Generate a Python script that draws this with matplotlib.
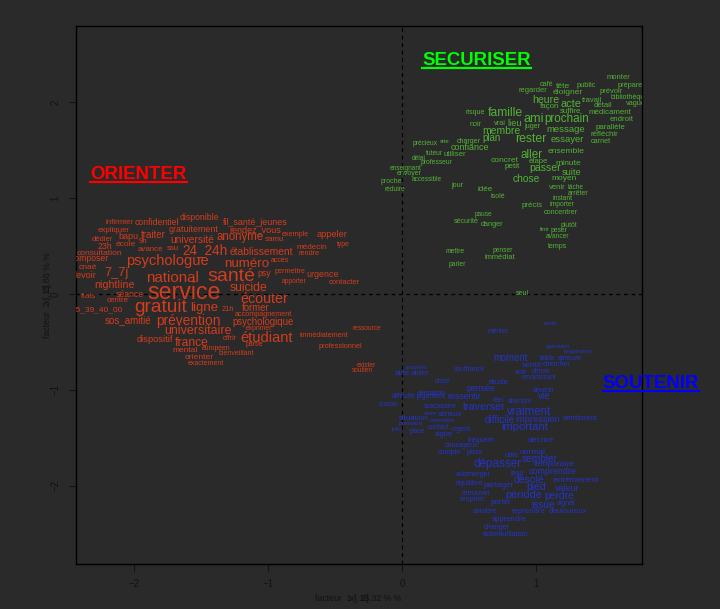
import matplotlib
matplotlib.use("Agg")
import matplotlib.pyplot as plt
from matplotlib.lines import Line2D

# ---- Classe ORIENTER ----
orienter_mots = ["disponible", "infirmier", "confidentiel", "fil_santé_jeunes", "expliquer",
    "gratuitement", "rendez_vous", "dédier", "bapu", "traiter", "université", "anonyme",
    "samu", "exemple", "appeler", "23h", "9h", "école", "avance", "ssu", "24_24h",
    "établissement", "médecin", "rendre", "type", "consultation", "composer", "psychologue",
    "numéro", "accès", "cnaé", "7_7j", "national", "santé", "psy", "permettre", "urgence",
    "devoir", "apporter", "contacter", "nightline", "service", "suicide", "séance", "frais",
    "centre", "écouter", "45_39_40_00", "gratuit", "ligne", "21h", "former",
    "accompagnement", "sos_amitié", "prévention", "psychologique", "exprimer",
    "universitaire", "dispositif", "offrir", "étudiant", "france", "partie", "mental",
    "européen", "bienveillant", "orienter", "exactement", "immédiatement", "ressource",
    "professionnel", "exister", "soutien"]
orienter_x = [-1.509, -2.104, -1.830, -1.091, -2.148, -1.551, -1.095, -2.232, -2.039, -1.854,
    -1.563, -1.206, -0.949, -0.794, -0.525, -2.217, -1.930, -2.058, -1.878, -1.705, -1.469,
    -1.045, -0.676, -0.694, -0.441, -2.255, -2.326, -1.745, -1.155, -0.910, -2.337, -2.130,
    -1.712, -1.269, -1.028, -0.836, -0.592, -2.371, -0.804, -0.433, -2.140, -1.625, -1.143,
    -2.027, -2.338, -2.121, -1.026, -2.268, -1.800, -1.473, -1.295, -1.091, -1.030, -2.044,
    -1.591, -1.035, -1.064, -1.522, -1.839, -1.281, -1.008, -1.569, -1.098, -1.618, -1.384,
    -1.235, -1.510, -1.461, -0.583, -0.262, -0.462, -0.267, -0.294]
orienter_y = [0.799, 0.750, 0.746, 0.746, 0.665, 0.669, 0.669, 0.567, 0.604, 0.620, 0.563,
    0.596, 0.563, 0.620, 0.620, 0.499, 0.547, 0.515, 0.462, 0.470, 0.454, 0.438, 0.486,
    0.422, 0.519, 0.426, 0.365, 0.340, 0.312, 0.345, 0.272, 0.219, 0.166, 0.182, 0.215,
    0.239, 0.199, 0.191, 0.126, 0.122, 0.089, 0.012, 0.057, -0.004, -0.024, -0.073, -0.053,
    -0.166, -0.142, -0.150, -0.158, -0.146, -0.211, -0.276, -0.284, -0.288, -0.365, -0.389,
    -0.478, -0.462, -0.458, -0.507, -0.527, -0.588, -0.567, -0.624, -0.665, -0.726, -0.430,
    -0.365, -0.551, -0.746, -0.803]
orienter_poids = [6.2, 5.8, 6.3, 6.4, 5.7, 6.4, 6.5, 5.4, 6.5, 7.0, 7.4, 8.3, 5.8, 5.2, 6.6,
    6.3, 5.6, 6.0, 5.7, 5.7, 9.8, 7.4, 5.9, 5.3, 4.9, 6.1, 6.2, 10.5, 9.6, 5.1, 6.1, 9.3,
    10.9, 14.0, 6.2, 5.2, 6.4, 6.5, 4.8, 5.4, 7.7, 16.7, 8.7, 6.2, 5.8, 5.7, 10.3, 6.0, 13.8,
    9.5, 5.4, 6.9, 5.2, 7.0, 9.9, 6.9, 4.9, 8.9, 6.7, 5.1, 10.5, 8.7, 5.0, 6.0, 4.9, 5.0,
    6.1, 5.0, 5.1, 4.7, 5.3, 4.7, 4.7]

# ---- Classe SECURISER ----
securiser_mots = ["monter", "café", "tête", "public", "prépare", "regarder", "éloigner",
    "prévoir", "bibliothèque", "heure", "acte", "travail", "façon", "détail", "vague",
    "suffire", "médicament", "risque", "famille", "ami", "prochain", "endroit", "noir",
    "vrai", "lieu", "juger", "membre", "message", "parallèle", "réfléchir", "plan", "rester",
    "essayer", "carnet", "précieux", "site", "charger", "confiance", "tuteur", "utiliser",
    "aller", "ensemble", "délai", "professeur", "concret", "petit", "étape", "minute",
    "enseignant", "envoyer", "passer", "suite", "chose", "moyen", "proche", "accessible",
    "réduire", "jour", "idée", "isolé", "venir", "tâche", "arrêter", "instant", "importer",
    "précis", "concentrer", "pause", "sécurité", "danger", "plutôt", "finir", "peser",
    "avancer", "temps", "mettre", "penser", "immédiat", "parler", "seul"]
securiser_x = [1.611, 1.078, 1.196, 1.372, 1.697, 0.978, 1.237, 1.557, 1.697, 1.073, 1.257,
    1.416, 1.095, 1.495, 1.741, 1.254, 1.546, 0.544, 0.766, 0.978, 1.225, 1.635, 0.551,
    0.732, 0.840, 0.972, 0.737, 1.218, 1.551, 1.505, 0.664, 0.958, 1.232, 1.478, 0.173,
    0.316, 0.499, 0.505, 0.245, 0.392, 0.961, 1.225, 0.125, 0.253, 0.765, 0.823, 1.013,
    1.237, 0.024, 0.055, 1.066, 1.262, 0.924, 1.204, -0.082, 0.181, -0.056, 0.411, 0.618,
    0.713, 1.156, 1.295, 1.312, 1.194, 1.191, 0.968, 1.184, 0.604, 0.481, 0.667, 1.242,
    1.061, 1.172, 1.160, 1.161, 0.397, 0.753, 0.725, 0.411, 0.896]
securiser_y = [2.262, 2.189, 2.169, 2.177, 2.177, 2.124, 2.100, 2.108, 2.047, 2.023, 1.986,
    2.019, 1.958, 1.966, 1.986, 1.905, 1.893, 1.897, 1.885, 1.828, 1.828, 1.816, 1.771,
    1.780, 1.780, 1.747, 1.702, 1.719, 1.739, 1.666, 1.625, 1.621, 1.609, 1.589, 1.573,
    1.593, 1.593, 1.524, 1.467, 1.455, 1.451, 1.484, 1.415, 1.374, 1.394, 1.334, 1.382,
    1.362, 1.313, 1.257, 1.309, 1.269, 1.200, 1.200, 1.171, 1.192, 1.094, 1.127, 1.086,
    1.013, 1.115, 1.115, 1.050, 0.993, 0.936, 0.924, 0.847, 0.831, 0.754, 0.726, 0.717,
    0.677, 0.661, 0.604, 0.490, 0.442, 0.454, 0.381, 0.308, 0.000]
securiser_poids = [5.5, 5.2, 6.1, 5.3, 5.3, 5.4, 6.0, 5.4, 5.0, 7.6, 7.9, 5.4, 5.7, 5.5, 5.3,
    5.7, 5.7, 5.1, 8.7, 9.2, 8.4, 5.6, 5.2, 5.3, 6.6, 5.3, 7.5, 6.8, 5.7, 5.6, 7.0, 8.8,
    6.8, 5.2, 4.8, 4.5, 5.1, 6.4, 4.8, 5.6, 8.4, 6.1, 4.8, 4.9, 6.1, 5.8, 5.5, 6.1, 4.7,
    5.0, 7.6, 6.6, 7.4, 6.0, 5.0, 4.7, 4.8, 5.2, 5.8, 5.0, 5.5, 4.7, 5.0, 4.9, 4.9, 5.7,
    5.2, 4.7, 5.0, 5.3, 4.9, 4.5, 4.9, 4.8, 5.0, 4.9, 4.8, 5.4, 4.9, 5.0]

# ---- Classe SOUTENIR ----
soutenir_mots = ["sortir", "mériter", "question", "respiration", "moment", "faible",
    "épreuve", "sentir", "chercher", "soutenir", "souffrance", "aide", "aider", "voir",
    "chose", "envahissant", "crise", "étude", "pensée", "devenir", "sensation", "difficulté",
    "jugement", "ressentir", "réel", "attendre", "vie", "crucial", "suicidaire", "traverser",
    "vraiment", "vivre", "sérieux", "situation", "pression", "entendre", "difficile",
    "impression", "sentiment", "important", "info", "place", "contact", "urgent", "signe",
    "fréquent", "décrire", "courageux", "compte", "piste", "utile", "normal", "dépasser",
    "sembler", "temporaire", "submerger", "iasp", "comprendre", "désolé", "équilibre",
    "partager", "pied", "extrêmement", "valeur", "retrouver", "respirer", "période",
    "perdre", "porter", "issue", "signal", "sombre", "reprendre", "douloureux", "apprendre",
    "changer", "automutilation"]
soutenir_x = [1.108, 0.717, 1.158, 1.315, 0.809, 1.085, 1.252, 0.973, 1.153, 0.104, 0.501,
    0.002, 0.130, 0.884, 1.037, 1.020, 0.301, 0.718, 0.585, 1.057, 0.221, 0.014, 0.216,
    0.462, 0.712, 0.879, 1.061, -0.101, 0.282, 0.612, 0.948, 0.214, 0.354, 0.082, 0.062,
    0.303, 0.724, 1.008, 1.329, 0.913, -0.038, 0.113, 0.270, 0.433, 0.310, 0.588, 1.030,
    0.446, 0.356, 0.539, 0.819, 0.970, 0.708, 1.026, 1.136, 0.532, 0.857, 1.122, 0.949,
    0.501, 0.722, 1.001, 1.293, 1.233, 0.551, 0.522, 0.903, 1.172, 0.734, 1.049, 1.218,
    0.621, 0.941, 1.237, 0.797, 0.706, 0.773]
soutenir_y = [-0.304, -0.393, -0.551, -0.600, -0.669, -0.677, -0.673, -0.742, -0.738, -0.770,
    -0.786, -0.835, -0.831, -0.815, -0.811, -0.876, -0.916, -0.920, -0.985, -1.005, -1.038,
    -1.070, -1.074, -1.074, -1.111, -1.119, -1.062, -1.155, -1.171, -1.180, -1.228, -1.244,
    -1.257, -1.301, -1.354, -1.325, -1.313, -1.313, -1.297, -1.390, -1.419, -1.439, -1.398,
    -1.415, -1.471, -1.528, -1.524, -1.577, -1.650, -1.654, -1.682, -1.650, -1.779, -1.723,
    -1.779, -1.885, -1.869, -1.852, -1.942, -1.978, -1.998, -2.019, -1.950, -2.035, -2.084,
    -2.140, -2.100, -2.112, -2.173, -2.197, -2.189, -2.266, -2.270, -2.266, -2.355, -2.432,
    -2.509]
soutenir_poids = [4.5, 4.8, 4.6, 4.6, 6.9, 4.7, 4.8, 6.1, 5.1, 4.6, 4.9, 5.8, 6.0, 5.5, 5.0,
    4.7, 5.3, 5.8, 6.3, 4.8, 4.7, 4.7, 5.0, 6.2, 4.8, 4.9, 7.2, 4.7, 5.6, 7.7, 8.3, 4.5,
    5.4, 5.7, 4.6, 4.6, 7.1, 6.6, 5.9, 8.1, 4.5, 4.7, 4.9, 5.0, 5.4, 5.2, 6.1, 5.2, 5.2,
    5.5, 5.6, 6.0, 8.5, 7.3, 6.1, 5.3, 5.2, 6.4, 7.5, 5.3, 5.9, 7.5, 5.7, 6.4, 5.2, 5.4,
    7.9, 7.4, 5.7, 7.2, 5.1, 5.3, 5.6, 5.6, 5.5, 5.2, 5.3]

# ---- Titres des classes ----
titres = ["ORIENTER", "SECURISER", "SOUTENIR"]
titres_x = [-1.964, 0.556, 1.853]
titres_y = [1.249, 2.440, -0.932]

FOND = "#2a2a2a"
SOMBRE = "#121212"
couleurs_mots = ["#d43c1e", "#52b236", "#2434c6"]
couleurs_titres = ["#ff0000", "#00ff00", "#0000ff"]

plt.rcParams["font.family"] = ["Liberation Sans", "DejaVu Sans"]

fig = plt.figure(figsize=(7.2, 6.09), dpi=100, facecolor=FOND)
ax = fig.add_axes([0.105, 0.074, 0.787, 0.884])
ax.set_facecolor(FOND)
ax.set_xlim(-2.432, 1.789)
ax.set_ylim(-2.817, 2.800)

for s in ax.spines.values():
    s.set_color("#000000")
    s.set_linewidth(1.0)

ax.axvline(0, color="#000000", lw=0.9, ls=(0, (3, 3)), zorder=1)
ax.axhline(0, color="#000000", lw=0.9, ls=(0, (3, 3)), zorder=1)

ax.set_xticks([-2, -1, 0, 1])
ax.set_yticks([-2, -1, 0, 1, 2])
ax.tick_params(colors=SOMBRE, labelsize=7, length=5, width=0.8, pad=6)
for lab in ax.get_yticklabels():
    lab.set_rotation(90)
    lab.set_va("center")

groupes = [
    (orienter_mots, orienter_x, orienter_y, orienter_poids),
    (securiser_mots, securiser_x, securiser_y, securiser_poids),
    (soutenir_mots, soutenir_x, soutenir_y, soutenir_poids),
]
for (mots, xs, ys, poids), c in zip(groupes, couleurs_mots):
    for m, x, y, p in zip(mots, xs, ys, poids):
        ax.text(x, y, m, fontsize=p, color=c, ha="center", va="center",
                clip_on=True, zorder=3)

titre_objs = []
for t, x, y, c in zip(titres, titres_x, titres_y, couleurs_titres):
    titre_objs.append(ax.text(x, y, t, fontsize=13.4, fontweight="bold", color=c,
                              ha="center", va="center", clip_on=False, zorder=4))

# axis labels (overprinted, as drawn by the original device)
fig.text(0.497, 0.018, "facteur  1 - 15.32 % %", color=SOMBRE, fontsize=6.3,
         ha="center", va="center")
fig.text(0.497, 0.018, "       x[, 1]      ", color=SOMBRE, fontsize=6.3,
         ha="center", va="center")
fig.text(0.066, 0.516, "facteur  2 - 11.68 % %", color=SOMBRE, fontsize=6.3,
         ha="center", va="center", rotation=90)
fig.text(0.066, 0.516, "       x[, 2]      ", color=SOMBRE, fontsize=6.3,
         ha="center", va="center", rotation=90)

# underline the class titles
fig.canvas.draw()
r = fig.canvas.get_renderer()
W, H = fig.bbox.width, fig.bbox.height
for t, c in zip(titre_objs, couleurs_titres):
    bb = t.get_window_extent(renderer=r)
    yline = bb.y0 + 1.0
    fig.add_artist(Line2D([bb.x0 / W, bb.x1 / W], [yline / H, yline / H],
                          color=c, lw=1.6, transform=fig.transFigure))

fig.savefig("out.png", dpi=100, facecolor=FOND)
